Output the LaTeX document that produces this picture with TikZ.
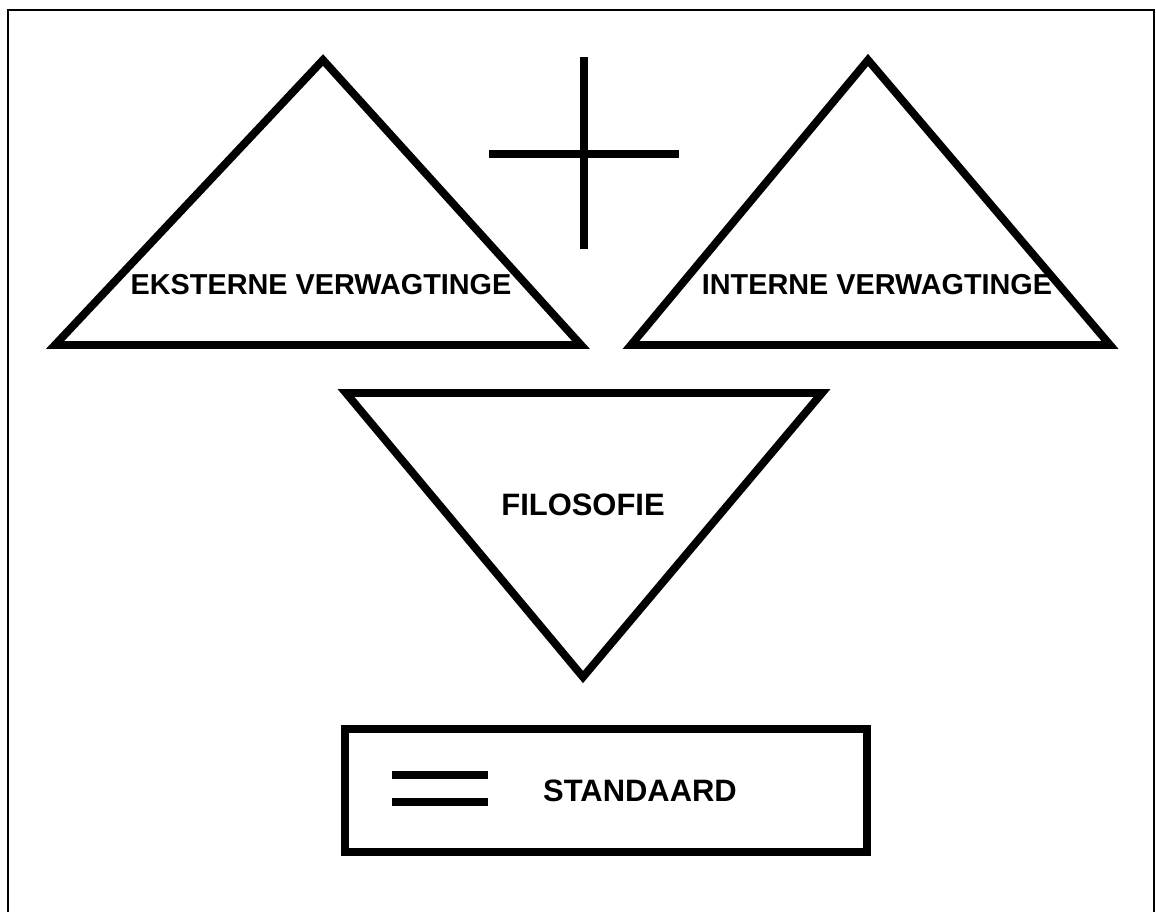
\documentclass[tikz,border=0pt]{standalone}
\usepackage{fontspec}
\setmainfont{Liberation Sans}
\begin{document}
\begin{tikzpicture}[x=0.025cm, y=-0.025cm,
    shape line/.style={line width=5.6pt, line join=miter},
    label text/.style={font=\fontsize{20.5}{24}\selectfont\bfseries, inner sep=0pt},
    big text/.style={font=\fontsize{22}{26}\selectfont\bfseries, inner sep=0pt}]
  \useasboundingbox (0,0) rectangle (1156,912);

  % outer frame, open at the bottom
  \draw[line width=1.1pt] (8,912) -- (8,10) -- (1154,10) -- (1154,912);

  % external expectations
  \draw[shape line] (323,60) -- (581,345) -- (55,345) -- cycle;
  \node[label text] (ext) at (321,285) {EKSTERNE VERWAGTINGE};

  % plus sign
  \draw[line width=5.6pt] (584,57) -- (584,249);
  \draw[line width=5.6pt] (489,154) -- (679,154);

  % internal expectations
  \draw[shape line] (868,60) -- (1110,345) -- (631,345) -- cycle;
  \node[label text] (int) at (877,285) {INTERNE VERWAGTINGE};

  % philosophy
  \draw[shape line] (346,393) -- (822,393) -- (583,677) -- cycle;
  \node[big text] (filo) at (583,505) {FILOSOFIE};

  % equals standard
  \draw[shape line] (345,729) rectangle (867,852);
  \draw[line width=5.6pt] (392,775) -- (488,775);
  \draw[line width=5.6pt] (392,802) -- (488,802);
  \node[big text] (std) at (640,791) {STANDAARD};
\end{tikzpicture}
\end{document}
